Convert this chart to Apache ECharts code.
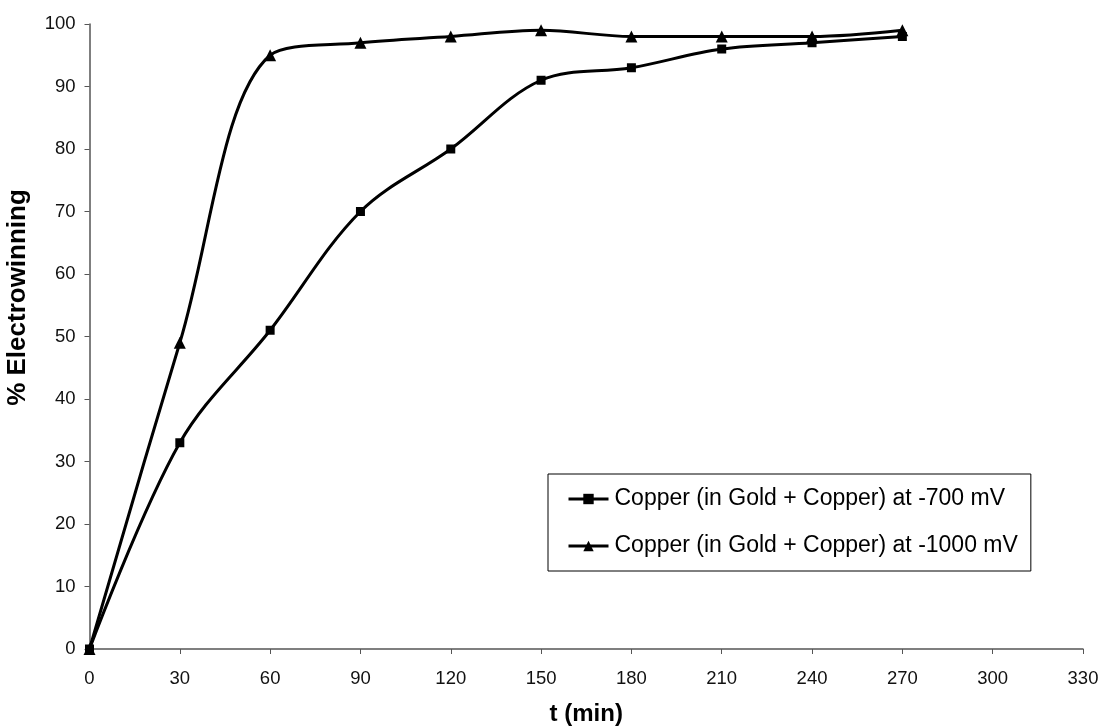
<!DOCTYPE html>
<html><head><meta charset="utf-8">
<script src="https://cdn.jsdelivr.net/npm/echarts@6/dist/echarts.min.js"></script>
<style>html,body{margin:0;padding:0;background:#fff}#c{width:1103px;height:727px}</style>
</head><body><div id="c"></div>
<script>
const times = [0, 30, 60, 90, 120, 150, 180, 210, 240, 270];
const cu700 = [0, 33, 51, 70, 80, 91, 93, 96, 97, 98];
const cu1000 = [0, 49, 95, 97, 98, 99, 98, 98, 98, 99];
const seriesNames = ['Copper (in Gold + Copper) at -700 mV', 'Copper (in Gold + Copper) at -1000 mV'];
const xTitle = 't (min)';
const yTitle = '% Electrowinning';

const font = 'Liberation Sans, Arial, sans-serif';
const chart = echarts.init(document.getElementById('c'), null, {renderer: 'canvas'});
const pairs = arr => times.map((t, i) => [t, arr[i]]);
chart.setOption({
  animation: false,
  backgroundColor: '#fff',
  grid: {left: 89.5, right: 20, top: 24, bottom: 78, containLabel: false, outerBoundsMode: 'none'},
  xAxis: {
    type: 'value', min: 0, max: 330, interval: 30,
    name: xTitle, nameLocation: 'middle', nameGap: 53,
    nameTextStyle: {fontFamily: font, fontWeight: 'bold', fontSize: 24, color: '#000'},
    axisLine: {lineStyle: {color: '#555', width: 1.5}},
    axisTick: {show: true, inside: false, length: 5, lineStyle: {color: '#555'}},
    axisLabel: {fontFamily: font, fontSize: 18.5, color: '#111', margin: 20},
    splitLine: {show: false}
  },
  yAxis: {
    type: 'value', min: 0, max: 100, interval: 10,
    name: yTitle, nameLocation: 'middle', nameGap: 59, nameRotate: 90,
    nameTextStyle: {fontFamily: font, fontWeight: 'bold', fontSize: 26, color: '#000', padding: [0, 0, 0, 78]},
    axisLine: {show: true, lineStyle: {color: '#555', width: 1.5}},
    axisTick: {show: true, inside: false, length: 5, lineStyle: {color: '#555'}},
    axisLabel: {fontFamily: font, fontSize: 18.5, color: '#111', margin: 14},
    splitLine: {show: false}
  },
  legend: {
    orient: 'vertical', left: 548, top: 474,
    data: seriesNames,
    itemWidth: 40, itemHeight: 13, itemGap: 23,
    padding: [13, 13, 13, 19],
    borderColor: '#000', borderWidth: 1,
    lineStyle: {width: 3},
    textStyle: {fontFamily: font, fontSize: 23, lineHeight: 24, color: '#000', padding: [0, 0, 0, 1]}
  },
  series: [
    {
      name: seriesNames[0], type: 'line', data: pairs(cu700), smooth: 0.35,
      symbol: 'rect', symbolSize: 9,
      lineStyle: {color: '#000', width: 3}, itemStyle: {color: '#000'}
    },
    {
      name: seriesNames[1], type: 'line', data: pairs(cu1000), smooth: 0.35,
      symbol: 'triangle', symbolSize: 12,
      lineStyle: {color: '#000', width: 3}, itemStyle: {color: '#000'}
    }
  ]
});
</script></body></html>
